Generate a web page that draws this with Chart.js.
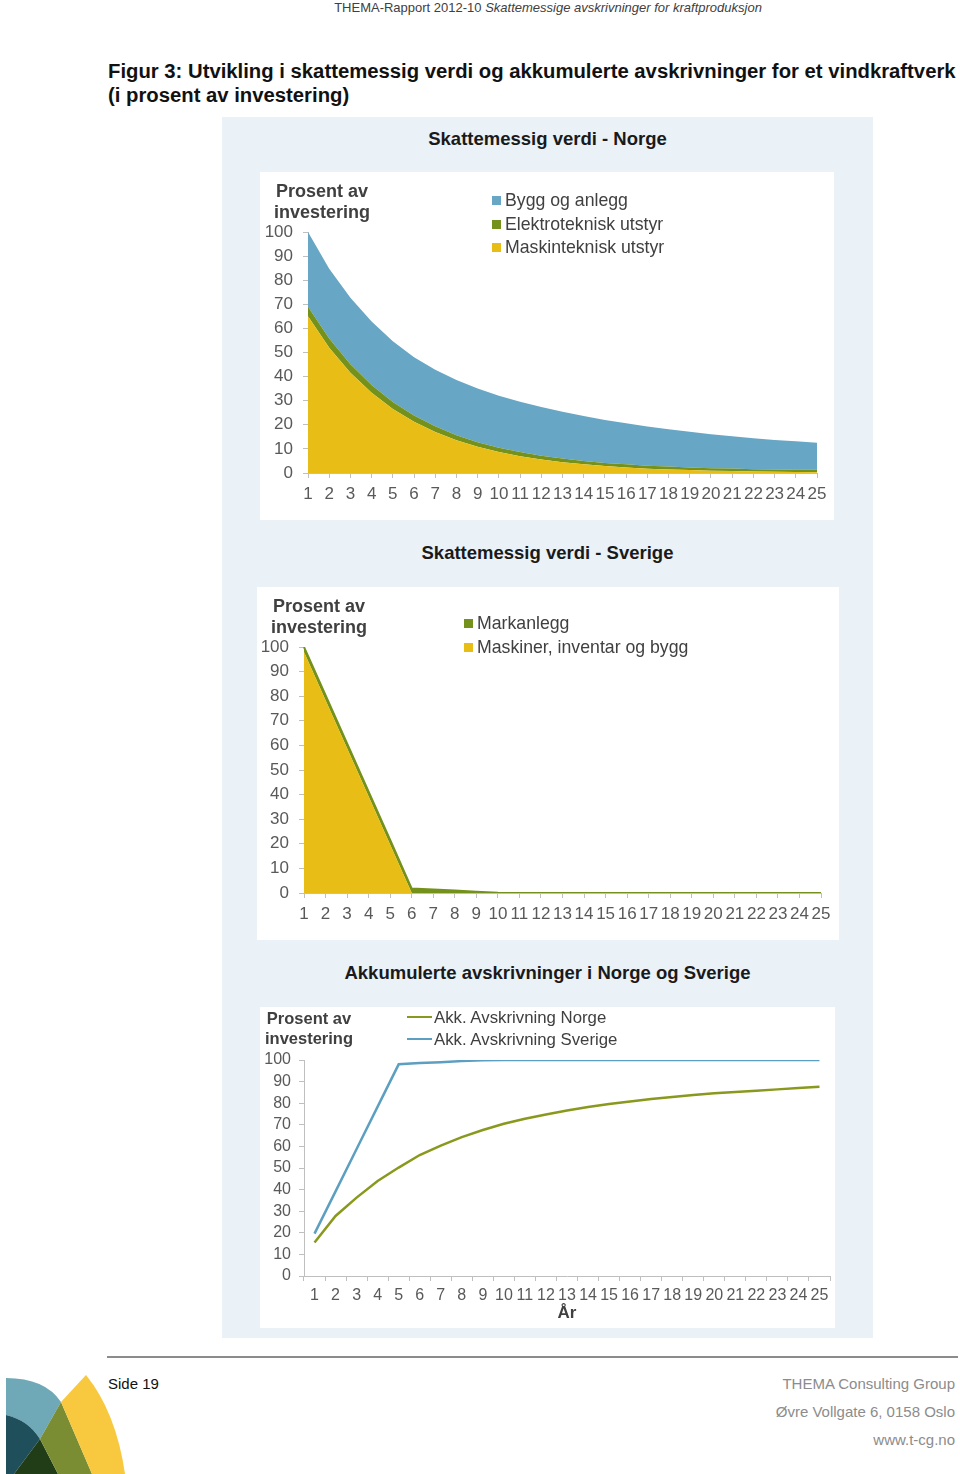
<!DOCTYPE html>
<html>
<head>
<meta charset="utf-8">
<script src="https://cdn.jsdelivr.net/npm/chart.js@4.4.1/dist/chart.umd.min.js"></script>
<style>
  body { margin: 0; background: #fff; font-family: "Liberation Sans", Arial, sans-serif; }
  #page { position: relative; width: 960px; height: 1474px; overflow: hidden; background: #fff; }
  .abs { position: absolute; white-space: nowrap; }
  .narrow { font-family: "Liberation Sans Narrow", "Liberation Sans", Arial, sans-serif; }
  #panel { position: absolute; left: 222px; top: 117px; width: 651px; height: 1221px; background: #eaf2f8; }
  .box { position: absolute; background: #fff; }
  .ctitle { position: absolute; left: 222px; width: 651px; text-align: center; font-weight: bold; font-size: 18.5px; color: #1a1a1a; }
  .ytitle { position: absolute; font-weight: bold; font-size: 18px; color: #404040; line-height: 21px; text-align: center; }
  .legend { position: absolute; font-size: 17.7px; color: #404040; line-height: 23.5px; }
  .legend .sw { display: inline-block; width: 9px; height: 9px; margin-right: 4px; vertical-align: 1px; }
  .legend .ln { display: inline-block; width: 25px; height: 2px; margin-right: 2px; vertical-align: 5px; }
</style>
</head>
<body>
<div id="page">
  <div class="abs narrow" style="left:0;width:1096px;top:0;text-align:center;font-size:13px;color:#404040;">THEMA-Rapport 2012-10 <i>Skattemessige avskrivninger for kraftproduksjon</i></div>

  <div class="abs" style="left:108px;top:59px;font-weight:bold;font-size:20.3px;color:#111;line-height:24px;">Figur 3: Utvikling i skattemessig verdi og akkumulerte avskrivninger for et vindkraftverk<br>(i prosent av investering)</div>

  <div id="panel"></div>

  <div class="ctitle" style="top:128px;">Skattemessig verdi - Norge</div>
  <div class="box" style="left:260px;top:172px;width:574px;height:348px;"><canvas id="c1" width="574" height="348"></canvas></div>
  <div class="ytitle" style="left:262px;top:181px;width:120px;">Prosent av<br>investering</div>
  <div class="legend" id="leg1" style="left:492px;top:189px;"></div>

  <div class="ctitle" style="top:542px;">Skattemessig verdi - Sverige</div>
  <div class="box" style="left:257px;top:587px;width:582px;height:353px;"><canvas id="c2" width="582" height="353"></canvas></div>
  <div class="ytitle" style="left:259px;top:596px;width:120px;">Prosent av<br>investering</div>
  <div class="legend" id="leg2" style="left:464px;top:612px;"></div>

  <div class="ctitle" style="top:962px;">Akkumulerte avskrivninger i Norge og Sverige</div>
  <div class="box" style="left:260px;top:1007px;width:575px;height:321px;"><canvas id="c3" width="575" height="321"></canvas></div>
  <div class="ytitle" style="left:249px;top:1008px;width:120px;font-size:16.5px;line-height:20px;">Prosent av<br>investering</div>
  <div class="legend" id="leg3" style="left:407px;top:1007px;font-size:16.8px;line-height:22px;"></div>

  <div class="abs" style="left:107px;top:1356px;width:851px;height:2px;background:#8c8c8c;"></div>
  <div class="abs narrow" style="left:108px;top:1375px;font-size:15px;color:#111;">Side 19</div>
  <div class="abs narrow" style="right:5px;top:1370px;font-size:15px;color:#8c8c8c;text-align:right;line-height:28px;">THEMA Consulting Group<br>Øvre Vollgate 6, 0158 Oslo<br>www.t-cg.no</div>

  <svg class="abs" style="left:0;top:1370px;" width="130" height="104" viewBox="0 1370 130 104">
    <path d="M6 1378 Q45 1378 61 1402 L40 1439 Q28 1420 6 1415 Z" fill="#6fa9b7"/>
    <path d="M6 1415 Q28 1420 40 1439 L14 1474 L6 1474 Z" fill="#1e4f5a"/>
    <path d="M40 1439 L58 1474 L14 1474 Z" fill="#203d18"/>
    <path d="M61 1402 L92 1474 L58 1474 L40 1439 Z" fill="#7a8d33"/>
    <path d="M86 1375 Q116 1412 125 1474 L92 1474 L61 1402 Z" fill="#f8c83e"/>
  </svg>
</div>

<script>
// --- data ---
const years = ['1','2','3','4','5','6','7','8','9','10','11','12','13','14','15','16','17','18','19','20','21','22','23','24','25'];
const yTickValues = [0, 10, 20, 30, 40, 50, 60, 70, 80, 90, 100];

// Norge: skattemessig verdi (stablet)
const norgeLabels = ['Bygg og anlegg', 'Elektroteknisk utstyr', 'Maskinteknisk utstyr'];
const byggNorge    = [31.0, 28.9, 27.6, 26.4, 25.2, 24.1, 23.4, 22.9, 22.3, 21.6, 20.9, 20.2, 19.4, 18.6, 17.8, 17.0, 16.3, 15.5, 14.8, 14.1, 13.4, 12.8, 12.2, 11.8, 11.3];
const elektroNorge = [4.0, 3.8, 3.5, 3.2, 2.9, 2.6, 2.4, 2.1, 1.9, 1.8, 1.7, 1.6, 1.5, 1.4, 1.3, 1.3, 1.2, 1.2, 1.1, 1.1, 1.1, 1.0, 1.0, 1.0, 1.0];
const maskinNorge  = [65.0, 52.0, 41.6, 33.3, 26.6, 21.3, 17.0, 13.6, 10.9, 8.7, 7.0, 5.6, 4.5, 3.6, 2.9, 2.3, 1.8, 1.5, 1.2, 0.9, 0.8, 0.6, 0.5, 0.4, 0.3];

// Sverige: skattemessig verdi (stablet)
const sverigeLabels = ['Markanlegg', 'Maskiner, inventar og bygg'];
const markSverige   = [2.0, 2.0, 2.0, 2.0, 2.0, 1.8, 1.4, 1.0, 0.5, 0.1, 0, 0, 0, 0, 0, 0, 0, 0, 0, 0, 0, 0, 0, 0, 0];
const maskinSverige = [98.0, 78.4, 58.8, 39.2, 19.6, 0, 0, 0, 0, 0, 0, 0, 0, 0, 0, 0, 0, 0, 0, 0, 0, 0, 0, 0, 0];

// Akkumulerte avskrivninger
const akkLabels = ['Akk. Avskrivning Norge', 'Akk. Avskrivning Sverige'];
const akkNorge   = [15.5, 27.8, 36.3, 44.0, 50.2, 56.0, 60.4, 64.3, 67.6, 70.5, 72.8, 74.8, 76.6, 78.2, 79.6, 80.8, 81.9, 82.9, 83.8, 84.6, 85.2, 85.8, 86.4, 87.0, 87.6];
const akkSverige = [19.6, 39.2, 58.8, 78.4, 98.0, 98.6, 99.0, 99.5, 99.9, 100, 100, 100, 100, 100, 100, 100, 100, 100, 100, 100, 100, 100, 100, 100, 100];

const BLUE = '#67a6c4', GREEN = '#74921b', YELLOW = '#e8be16';
const LINE_GREEN = '#8a991d', LINE_BLUE = '#5d9fc0';
const AXIS = '#bfbfbf', TICK = '#595959';

Chart.defaults.font.family = '"Liberation Sans", Arial, sans-serif';
Chart.defaults.color = TICK;

// akser, som i Excel: kun tick-merker utenfor
function xAxis(size, pad, h, offset, title) {
    const ax = {
        type: 'category',
        offset: offset,
        grid: { offset: offset, drawOnChartArea: false, drawTicks: true, tickLength: 5, color: AXIS },
        border: { color: AXIS, width: 1 },
        ticks: { autoSkip: false, maxRotation: 0, minRotation: 0, padding: pad, color: TICK, font: { size: size } },
        afterFit: s => { s.height = h; }
    };
    if (title) ax.title = { display: true, text: title, color: '#404040', font: { size: 17, weight: 'bold' }, padding: { top: 0, bottom: 4 } };
    return ax;
}
function yAxis(size, pad, w, stacked) {
    return {
        stacked: stacked,
        min: 0, max: 100,
        grid: { drawOnChartArea: false, drawTicks: true, tickLength: 5, color: AXIS },
        border: { color: AXIS, width: 1 },
        ticks: { autoSkip: false, padding: pad, color: TICK, font: { size: size } },
        afterBuildTicks: s => { s.ticks = yTickValues.map(v => ({ value: v })); },
        afterFit: s => { s.width = w; }
    };
}
const common = {
    responsive: false,
    animation: false,
    plugins: { legend: { display: false }, tooltip: { enabled: false } },
    elements: { point: { radius: 0 }, line: { tension: 0 } }
};

function areaSet(label, data, color, fill, bw) {
    return { label: label, data: data, backgroundColor: color, borderColor: color, borderWidth: bw || 0, fill: fill, pointRadius: 0 };
}

// === Graf 1: Norge ===
new Chart(document.getElementById('c1'), {
    type: 'line',
    data: {
        labels: years,
        datasets: [
            areaSet(norgeLabels[2], maskinNorge, YELLOW, 'origin'),
            areaSet(norgeLabels[1], elektroNorge, GREEN, '-1'),
            areaSet(norgeLabels[0], byggNorge, BLUE, '-1')
        ]
    },
    options: Object.assign({}, common, {
        layout: { padding: { top: 60, right: 17, bottom: 0, left: 0 } },
        scales: { x: xAxis(17, 6, 47, false), y: yAxis(17, 10, 48, true) }
    })
});

// === Graf 2: Sverige ===
new Chart(document.getElementById('c2'), {
    type: 'line',
    data: {
        labels: years,
        datasets: [
            areaSet(sverigeLabels[1], maskinSverige, YELLOW, 'origin'),
            areaSet(sverigeLabels[0], markSverige, GREEN, '-1', 2)
        ]
    },
    options: Object.assign({}, common, {
        layout: { padding: { top: 60, right: 18, bottom: 0, left: 0 } },
        scales: { x: xAxis(17, 6, 47, false), y: yAxis(17, 10, 47, true) }
    })
});

// === Graf 3: akkumulert ===
new Chart(document.getElementById('c3'), {
    type: 'line',
    data: {
        labels: years,
        datasets: [
            { label: akkLabels[0], data: akkNorge, borderColor: LINE_GREEN, borderWidth: 2.5, fill: false, pointRadius: 0 },
            { label: akkLabels[1], data: akkSverige, borderColor: LINE_BLUE, borderWidth: 2.5, fill: false, pointRadius: 0 }
        ]
    },
    options: Object.assign({}, common, {
        layout: { padding: { top: 53, right: 5, bottom: 0, left: 0 } },
        scales: { x: xAxis(16, 5, 52, true, 'År'), y: yAxis(16, 8, 44, false) }
    })
});

// legender (HTML)
function squareLegend(id, labels, colors) {
    document.getElementById(id).innerHTML = labels.map((l, i) =>
        '<div><span class="sw" style="background:' + colors[i] + '"></span>' + l + '</div>').join('');
}
squareLegend('leg1', norgeLabels, [BLUE, GREEN, YELLOW]);
squareLegend('leg2', sverigeLabels, [GREEN, YELLOW]);
document.getElementById('leg3').innerHTML = akkLabels.map((l, i) =>
    '<div><span class="ln" style="background:' + [LINE_GREEN, LINE_BLUE][i] + '"></span>' + l + '</div>').join('');
</script>
</body>
</html>
